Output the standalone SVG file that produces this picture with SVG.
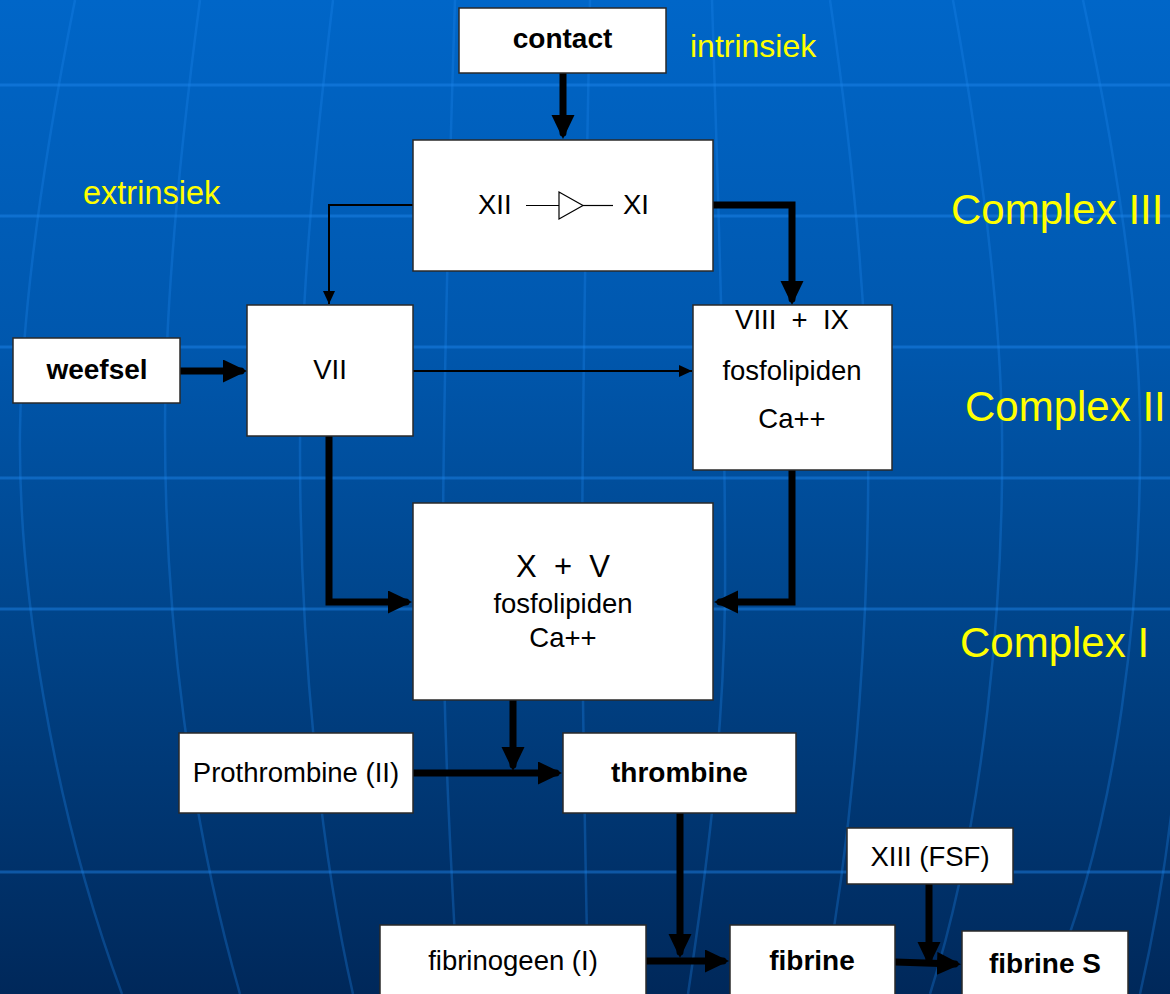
<svg xmlns="http://www.w3.org/2000/svg" width="1170" height="994" viewBox="0 0 1170 994">
<defs>
<linearGradient id="bg" x1="0" y1="0" x2="0" y2="1">
<stop offset="0" stop-color="#0066c8"/>
<stop offset="0.35" stop-color="#0057ad"/>
<stop offset="0.6" stop-color="#00468d"/>
<stop offset="1" stop-color="#00285a"/>
</linearGradient>
<marker id="ah" markerUnits="userSpaceOnUse" markerWidth="26" markerHeight="24" refX="18" refY="11.5" orient="auto">
<path d="M0,0 L24,11.5 L0,23 z" fill="#000"/>
</marker>
<marker id="as" markerUnits="userSpaceOnUse" markerWidth="14" markerHeight="14" refX="13" refY="6" orient="auto">
<path d="M0,0 L13,6 L0,12 z" fill="#000"/>
</marker>
<style>
.box{fill:#fff;stroke:#2a2a2a;stroke-width:1.5}
.t{font-family:"Liberation Sans",Arial,sans-serif;font-size:27.5px;fill:#000;text-anchor:middle}
.b{font-weight:bold;font-size:28px}
.y{font-family:"Liberation Sans",Arial,sans-serif;fill:#ffff00}
.grid{fill:none;stroke:#1e88ee;stroke-opacity:0.45;stroke-width:3}
.mer{fill:none;stroke:#1e88ee;stroke-opacity:0.3;stroke-width:2.5}
.thick{fill:none;stroke:#000;stroke-width:7;stroke-linecap:round;stroke-linejoin:miter}
.thin{fill:none;stroke:#000;stroke-width:2}
</style>
</defs>
<g id="background">
<rect x="0" y="0" width="1170" height="994" fill="url(#bg)"/>
<g class="grid">
<line x1="0" y1="85" x2="1170" y2="85"/>
<line x1="0" y1="216" x2="1170" y2="216"/>
<line x1="0" y1="347" x2="1170" y2="347"/>
<line x1="0" y1="478" x2="1170" y2="478"/>
<line x1="0" y1="609" x2="1170" y2="609"/>
<line x1="0" y1="872" x2="1170" y2="872"/>
</g>
<g class="mer">
<path d="M75,0 C45,150 22,300 20,430 C18,580 50,800 122,994"/>
<path d="M200,0 C180,150 165,300 165,430 C165,620 190,820 240,994"/>
<path d="M333,0 C315,150 300,300 300,450 C300,650 320,850 353,994"/>
<path d="M455,0 C447,250 442,450 443,600 C444,750 452,880 458,994"/>
<path d="M590,0 C585,250 582,450 582,600 C583,750 586,880 588,994"/>
<path d="M712,0 C720,250 726,450 725,600 C723,750 705,880 688,994"/>
<path d="M830,0 C852,150 866,300 868,430 C870,600 858,800 823,994"/>
<path d="M953,0 C980,150 1000,300 1002,430 C1004,600 985,820 930,994"/>
<path d="M1083,0 C1115,150 1138,300 1140,420 C1142,600 1120,820 1047,994"/>
<path d="M1175,780 C1165,880 1150,950 1140,994"/>
</g>
</g>
<g id="labels">
<text class="y" x="690" y="57" font-size="32">intrinsiek</text>
<text class="y" x="83" y="204" font-size="32.5">extrinsiek</text>
<text class="y" x="951" y="224" font-size="42">Complex III</text>
<text class="y" x="965" y="421" font-size="42">Complex II</text>
<text class="y" x="960" y="657" font-size="42">Complex I</text>
</g>
<g id="connectors">
<path class="thick" d="M563,73 L563,133" marker-end="url(#ah)"/>
<path class="thin" d="M413,205 L329,205 L329,304" marker-end="url(#as)"/>
<path class="thick" d="M713,205 L792,205 L792,299" marker-end="url(#ah)"/>
<path class="thick" d="M180,371 L241,371" marker-end="url(#ah)"/>
<path class="thin" d="M413,371 L692,371" marker-end="url(#as)"/>
<path class="thick" d="M329,437 L329,602 L406,602" marker-end="url(#ah)"/>
<path class="thick" d="M792,470 L792,602 L720,602" marker-end="url(#ah)"/>
<path class="thick" d="M513,700 L513,765" marker-end="url(#ah)"/>
<path class="thick" d="M413,773 L556,773" marker-end="url(#ah)"/>
<path class="thick" d="M680,813 L680,952" marker-end="url(#ah)"/>
<path class="thick" d="M646,961 L723,961" marker-end="url(#ah)"/>
<path class="thick" d="M929,884 L929,960" marker-end="url(#ah)"/>
<path class="thick" d="M895,962 L955,964" marker-end="url(#ah)"/>
</g>
<g id="contact">
<rect class="box" x="459" y="8" width="207" height="65"/>
<text class="t b" x="562.5" y="48">contact</text>
</g>
<g id="xii-xi">
<rect class="box" x="413" y="140" width="300" height="131"/>
<text class="t" x="478" y="214" style="text-anchor:start">XII</text>
<line x1="526" y1="205.5" x2="559" y2="205.5" stroke="#000" stroke-width="1.2"/>
<polygon points="559,192 583,205.5 559,219" fill="#fff" stroke="#000" stroke-width="1.2"/>
<line x1="583" y1="205.5" x2="613" y2="205.5" stroke="#000" stroke-width="1.2"/>
<text class="t" x="623" y="214" style="text-anchor:start">XI</text>
</g>
<g id="weefsel">
<rect class="box" x="13" y="338" width="167" height="65"/>
<text class="t b" x="97" y="379">weefsel</text>
</g>
<g id="vii">
<rect class="box" x="247" y="305" width="166" height="131"/>
<text class="t" x="330" y="379">VII</text>
</g>
<g id="viii-ix">
<rect class="box" x="693" y="305" width="199" height="165"/>
<text class="t" x="792" y="329" xml:space="preserve">VIII  +  IX</text>
<text class="t" x="792" y="380">fosfolipiden</text>
<text class="t" x="792" y="428">Ca++</text>
</g>
<g id="x-v">
<rect class="box" x="413" y="503" width="300" height="197"/>
<text class="t" x="563" y="577" style="font-size:31px" xml:space="preserve">X  +  V</text>
<text class="t" x="563" y="613">fosfolipiden</text>
<text class="t" x="563" y="647">Ca++</text>
</g>
<g id="prothrombine">
<rect class="box" x="179" y="733" width="234" height="80"/>
<text class="t" x="296" y="782">Prothrombine (II)</text>
</g>
<g id="thrombine">
<rect class="box" x="563" y="733" width="233" height="80"/>
<text class="t b" x="679.5" y="782">thrombine</text>
</g>
<g id="xiii">
<rect class="box" x="847" y="828" width="166" height="56"/>
<text class="t" x="930" y="866">XIII (FSF)</text>
</g>
<g id="fibrinogeen">
<rect class="box" x="380" y="925" width="266" height="80"/>
<text class="t" x="513" y="970">fibrinogeen (I)</text>
</g>
<g id="fibrine">
<rect class="box" x="730" y="925" width="165" height="80"/>
<text class="t b" x="812" y="970">fibrine</text>
</g>
<g id="fibrine-s">
<rect class="box" x="962" y="931" width="166" height="80"/>
<text class="t b" x="1045" y="973">fibrine S</text>
</g>
</svg>
